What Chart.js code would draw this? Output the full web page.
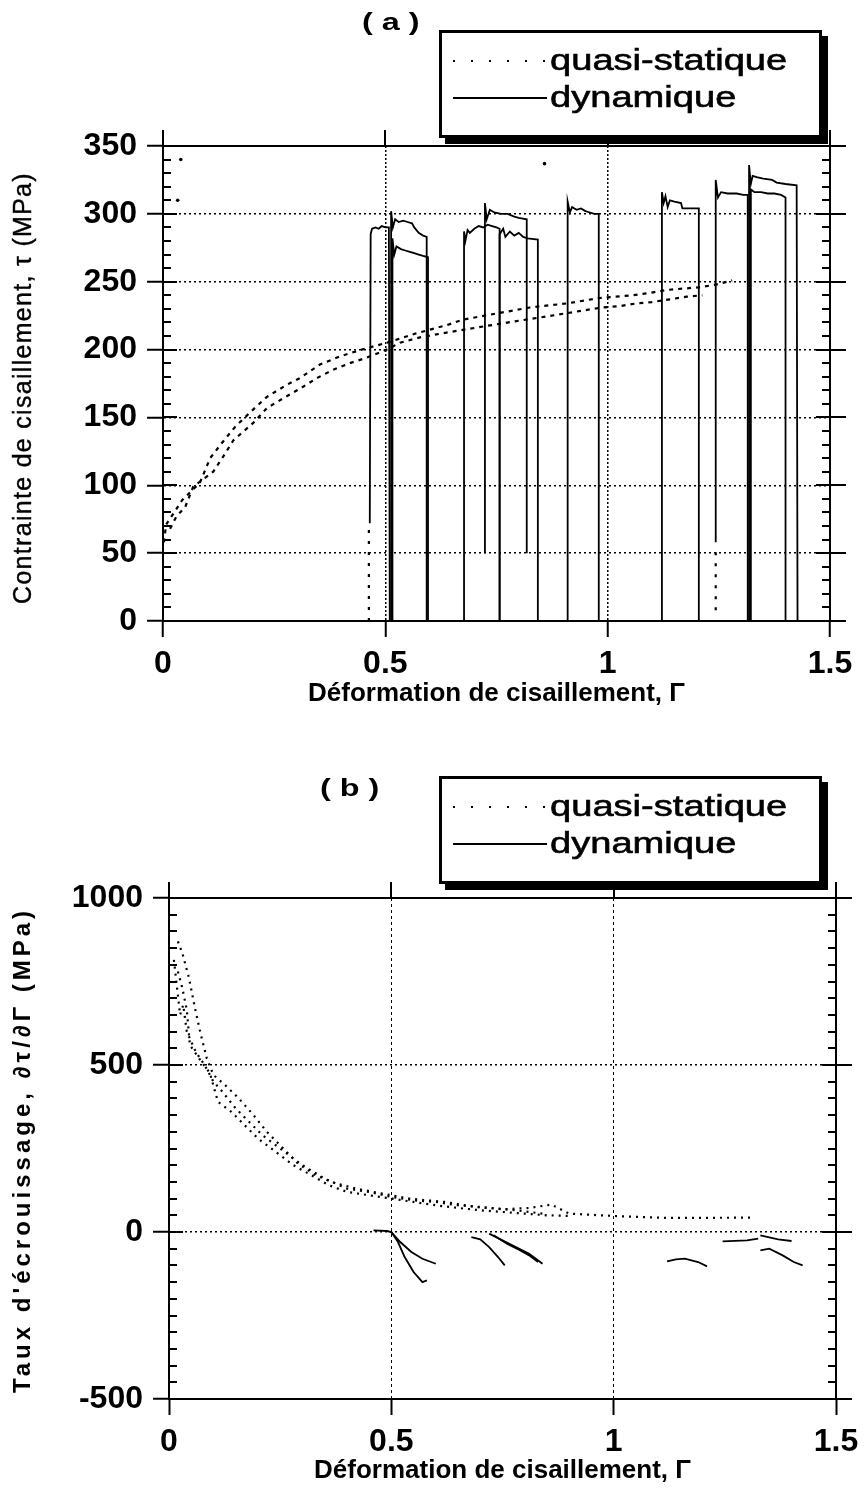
<!DOCTYPE html>
<html lang="fr">
<head>
<meta charset="utf-8">
<title>Contrainte et taux d'écrouissage</title>
<script src="https://cdn.jsdelivr.net/npm/chart.js@4.4.1/dist/chart.umd.min.js"></script>
<style>
  html, body { margin: 0; padding: 0; background: #fff; }
  #page { position: relative; width: 868px; height: 1495px; overflow: hidden; }
  canvas { position: absolute; left: 0; }
  #chart-a { top: 0; }
  #chart-b { top: 730px; }
  .panel { position: absolute; font: bold 24px "Liberation Sans", Arial, sans-serif; transform: scaleX(1.35); transform-origin: left center; white-space: pre; }
  .legend { position: absolute; left: 439px; width: 377px; height: 102px; border: 3px solid #000; box-shadow: 6px 6px 0 #000; background: #fff; }
  .legend .row { position: absolute; left: 0; width: 100%; height: 36px; }
  .legend .sample { position: absolute; left: 11px; top: 17px; width: 94px; height: 2px; }
  .legend .dots { background: repeating-linear-gradient(to right, #000 0 2px, transparent 2px 18px); }
  .legend .solid { background: #000; }
  .legend .lbl { position: absolute; left: 108px; top: 0; line-height: 36px; font: 30px "Liberation Sans", Arial, sans-serif; -webkit-text-stroke: 0.6px #000; transform: scaleX(1.27); transform-origin: left center; white-space: nowrap; }
  .ytitle { position: absolute; white-space: nowrap; transform: translate(-50%, -50%) rotate(-90deg); font-family: "Liberation Sans", Arial, sans-serif; }
</style>
</head>
<body>
<div id="page">
  <canvas id="chart-a" width="868" height="728"></canvas>
  <canvas id="chart-b" width="868" height="765"></canvas>

  <div class="panel" style="left:362px; top:8px;">( a )</div>
  <div class="legend" style="top:30px;">
    <div class="row" style="top:10px;"><span class="sample dots"></span><span class="lbl">quasi-statique</span></div>
    <div class="row" style="top:47px;"><span class="sample solid"></span><span class="lbl">dynamique</span></div>
  </div>
  <div class="ytitle" style="left:22px; top:388px; font-size:25px; letter-spacing:1.3px; -webkit-text-stroke:0.4px #000;">Contrainte de cisaillement, τ (MPa)</div>

  <div class="panel" style="left:320px; top:774px;">( b )</div>
  <div class="legend" style="top:776px;">
    <div class="row" style="top:10px;"><span class="sample dots"></span><span class="lbl">quasi-statique</span></div>
    <div class="row" style="top:47px;"><span class="sample solid"></span><span class="lbl">dynamique</span></div>
  </div>
  <div class="ytitle" style="left:22px; top:1150px; font-size:24px; font-weight:bold; letter-spacing:4px;">Taux d'écrouissage, ∂τ/∂Γ (MPa)</div>
</div>

<script>
// shared axes
const strainTicks = [0, 0.5, 1, 1.5];
const stressTicks = [0, 50, 100, 150, 200, 250, 300, 350];
const rateTicks = [-500, 0, 500, 1000];
const stressMinorStep = 10;
const rateMinorStep = 50;

// (a) quasi-static tests [Γ, τ MPa]
const quasiA1 = [[0.002,58],[0.007,71],[0.043,89],[0.083,102],[0.106,120],[0.132,131],[0.162,143],[0.2,155],[0.233,165],[0.278,174],[0.308,179],[0.353,189],[0.398,195],[0.447,200],[0.503,205],[0.57,212],[0.638,218],[0.674,222],[0.757,227],[0.825,231],[0.908,234],[0.982,238],[1.056,240],[1.099,242],[1.135,244],[1.173,245],[1.21,246],[1.245,248],[1.28,251]];
const quasiA2 = [[0.016,68],[0.03,77],[0.05,84],[0.068,99],[0.113,110],[0.135,121],[0.158,133],[0.203,146],[0.234,157],[0.27,164],[0.312,172],[0.346,179],[0.382,185],[0.42,190],[0.458,194],[0.503,200],[0.533,205],[0.578,209],[0.629,212],[0.683,215],[0.72,217],[0.795,221],[0.874,225],[0.949,229],[0.987,231],[1.027,232],[1.065,234],[1.099,235],[1.14,237],[1.178,239],[1.213,240]];
const quasiA3 = [[0.463,0],[0.463,72]];
const quasiA4 = [[1.243,8],[1.243,55]];
const strayDotsA = [[0.04,340],[0.033,310],[0.858,337]];

// (a) dynamic tests
const dynA1 = [[0.465,72],[0.467,285],[0.47,289],[0.478,290],[0.485,289],[0.492,291],[0.5,290],[0.508,290],[0.51,0]];
const dynA2 = [[0.513,0],[0.513,302],[0.517,290],[0.522,296],[0.53,294],[0.54,295],[0.55,294],[0.56,293],[0.565,290],[0.575,286],[0.585,284],[0.593,283],[0.593,0]];
const dynA3 = [[0.516,0],[0.516,282],[0.52,270],[0.525,276],[0.535,274],[0.545,273],[0.555,272],[0.565,271],[0.575,270],[0.585,269],[0.596,268],[0.596,0]];
const dynA4 = [[0.677,0],[0.677,287],[0.68,280],[0.685,288],[0.69,286],[0.7,289],[0.71,291],[0.72,290],[0.73,292],[0.74,291],[0.75,290],[0.757,289],[0.757,0]];
const dynA5 = [[0.724,50],[0.724,308],[0.728,296],[0.735,303],[0.745,301],[0.76,300],[0.775,300],[0.79,298],[0.8,297],[0.818,296],[0.818,50]];
const dynA6 = [[0.757,0],[0.757,285],[0.765,289],[0.77,283],[0.78,287],[0.79,284],[0.8,286],[0.81,283],[0.82,282],[0.843,281],[0.843,0]];
const dynA7 = [[0.91,0],[0.91,309],[0.915,301],[0.92,305],[0.93,303],[0.94,304],[0.95,302],[0.96,301],[0.97,300],[0.98,300],[0.98,0]];
const dynA8 = [[1.122,0],[1.122,316],[1.126,308],[1.13,313],[1.135,305],[1.14,310],[1.15,309],[1.165,308],[1.168,304],[1.19,304],[1.205,304],[1.205,0]];
const dynA9 = [[1.243,58],[1.243,325],[1.248,312],[1.255,316],[1.27,315],[1.29,315],[1.305,314],[1.315,314],[1.315,0]];
const dynA10 = [[1.318,0],[1.318,336],[1.322,322],[1.326,328],[1.335,327],[1.35,326],[1.37,325],[1.38,323],[1.4,322],[1.425,321],[1.427,0]];
const dynA11 = [[1.322,0],[1.322,318],[1.33,316],[1.345,316],[1.36,315],[1.375,315],[1.39,314],[1.4,312],[1.4,0]];

// (b) quasi-static hardening rate [Γ, dτ/dΓ MPa]
const quasiB1 = [[0.02,870],[0.03,835],[0.045,760],[0.058,673],[0.07,600],[0.085,520],[0.1,470],[0.126,440],[0.157,400],[0.19,350],[0.22,300],[0.257,250],[0.29,205],[0.33,170],[0.37,148],[0.42,130],[0.48,115],[0.54,100],[0.62,90],[0.69,75],[0.75,68],[0.81,72],[0.86,82],[0.9,55],[1.0,48],[1.12,42],[1.31,43]];
const quasiB2 = [[0.02,780],[0.03,730],[0.04,665],[0.047,560],[0.07,515],[0.092,476],[0.11,390],[0.14,360],[0.17,320],[0.2,280],[0.24,240],[0.28,200],[0.32,170],[0.36,140],[0.4,120],[0.45,110],[0.5,100],[0.55,90],[0.6,80],[0.65,72],[0.7,65],[0.75,60],[0.8,55],[0.85,50],[0.9,48]];
const quasiB3 = [[0.011,815],[0.025,650],[0.032,680],[0.04,600],[0.06,540],[0.08,500],[0.1,450],[0.12,420],[0.15,370],[0.18,330],[0.21,290],[0.25,250],[0.3,200],[0.35,160],[0.4,130],[0.45,120],[0.5,105],[0.55,95],[0.6,90],[0.65,80],[0.7,75],[0.78,65],[0.84,55]];

// (b) dynamic hardening rate
const dynB1 = [[0.46,5],[0.49,3],[0.5,0],[0.52,-30],[0.545,-60],[0.57,-80],[0.6,-95]];
const dynB2 = [[0.5,0],[0.515,-30],[0.53,-75],[0.55,-120],[0.57,-150],[0.58,-145]];
const dynB3 = [[0.68,-15],[0.7,-22],[0.72,-45],[0.74,-75],[0.755,-100]];
const dynB4 = [[0.72,-5],[0.75,-25],[0.78,-45],[0.81,-65],[0.84,-95]];
const dynB5 = [[0.73,-10],[0.76,-35],[0.79,-55],[0.81,-70],[0.83,-90]];
const dynB6 = [[1.12,-88],[1.14,-82],[1.16,-80],[1.19,-90],[1.21,-103]];
const dynB7 = [[1.245,-28],[1.3,-25],[1.325,-20]];
const dynB8 = [[1.33,-10],[1.37,-22],[1.4,-27]];
const dynB9 = [[1.33,-55],[1.35,-50],[1.38,-70],[1.405,-90],[1.425,-100]];

const tickFont = { family: "'Liberation Sans', Arial, sans-serif", size: 32, weight: "bold" };
const xTitleFont = { family: "'Liberation Sans', Arial, sans-serif", size: 26, weight: "bold" };

const pts = (arr) => arr.map(([x, y]) => ({ x, y }));

function quasiSet(arr, dash) {
  return { data: pts(arr), borderColor: "#000", borderWidth: 2.2, borderDash: dash, pointRadius: 0, fill: false, tension: 0 };
}
function dynSet(arr) {
  return { data: pts(arr), borderColor: "#000", borderWidth: 1.8, pointRadius: 0, fill: false, tension: 0 };
}

// minor ticks + inner major ticks on left and right frame
const frameTicks = {
  id: "frameTicks",
  afterDraw(chart, args, opts) {
    const { ctx, chartArea: a } = chart;
    const y = chart.scales.y;
    const n = Math.round((y.max - y.min) / opts.minorStep);
    ctx.save();
    ctx.strokeStyle = "#000";
    ctx.lineWidth = 2;
    ctx.beginPath();
    for (let i = 0; i <= n; i++) {
      const v = y.min + i * opts.minorStep;
      const py = Math.round(y.getPixelForValue(v));
      const len = opts.majors.includes(v) ? 14 : 8;
      ctx.moveTo(a.left, py);
      ctx.lineTo(a.left + len, py);
      ctx.moveTo(a.right - len, py);
      ctx.lineTo(a.right, py);
    }
    ctx.stroke();
    ctx.restore();
  }
};

function makeScales(o) {
  const tickGrid = { color: "#000", tickLength: 16, tickWidth: 2, tickColor: "#000", tickBorderDash: [] };
  return {
    x: {
      type: "linear", position: "bottom", min: 0, max: 1.5,
      afterBuildTicks: (s) => { s.ticks = strainTicks.map((v) => ({ value: v })); },
      ticks: { font: tickFont, color: "#000", padding: 8, maxRotation: 0, autoSkip: false, callback: (v) => String(v) },
      grid: Object.assign({}, tickGrid, { lineWidth: o.vGridWidth }),
      border: { display: true, color: "#000", width: 2, dash: o.vDash },
      title: { display: true, text: "Déformation de cisaillement, Γ", font: xTitleFont, color: "#000", padding: { top: 0, bottom: o.titlePad } },
      afterFit: (s) => { s.height = o.bottomH; }
    },
    xTop: {
      type: "linear", position: "top", min: 0, max: 1.5,
      afterBuildTicks: (s) => { s.ticks = strainTicks.map((v) => ({ value: v })); },
      ticks: { display: false },
      grid: Object.assign({}, tickGrid, { drawOnChartArea: false, lineWidth: 2 }),
      border: { display: true, color: "#000", width: 2 },
      afterFit: (s) => { s.height = o.topH; }
    },
    y: {
      type: "linear", position: "left", min: o.yTicks[0], max: o.yTicks[o.yTicks.length - 1],
      afterBuildTicks: (s) => { s.ticks = o.yTicks.map((v) => ({ value: v })); },
      ticks: { font: tickFont, color: "#000", padding: 10, callback: (v) => String(v) },
      grid: Object.assign({}, tickGrid, { lineWidth: 1.5 }),
      border: { display: true, color: "#000", width: 2, dash: [2, 3] },
      afterFit: (s) => { s.width = o.leftW; }
    },
    yRight: {
      type: "linear", position: "right", min: o.yTicks[0], max: o.yTicks[o.yTicks.length - 1],
      afterBuildTicks: (s) => { s.ticks = o.yTicks.map((v) => ({ value: v })); },
      ticks: { display: false },
      grid: Object.assign({}, tickGrid, { drawOnChartArea: false, lineWidth: 2 }),
      border: { display: true, color: "#000", width: 2 },
      afterFit: (s) => { s.width = o.rightW; }
    }
  };
}

const baseOptions = {
  responsive: false,
  animation: false,
  events: [],
  layout: { padding: 0 },
  plugins: { legend: { display: false }, tooltip: { enabled: false } }
};

// (a) contrainte de cisaillement
new Chart(document.getElementById("chart-a"), {
  type: "line",
  data: {
    datasets: [
      quasiSet(quasiA1, [4, 5]),
      quasiSet(quasiA2, [4, 5]),
      quasiSet(quasiA3, [3, 8]),
      quasiSet(quasiA4, [3, 8]),
      { data: pts(strayDotsA), showLine: false, pointRadius: 1.8, pointBackgroundColor: "#000", pointBorderWidth: 0 },
      dynSet(dynA1), dynSet(dynA2), dynSet(dynA3), dynSet(dynA4), dynSet(dynA5), dynSet(dynA6),
      dynSet(dynA7), dynSet(dynA8), dynSet(dynA9), dynSet(dynA10), dynSet(dynA11)
    ]
  },
  options: Object.assign({}, baseOptions, {
    scales: makeScales({ yTicks: stressTicks, leftW: 163, rightW: 38, topH: 146, bottomH: 107, titlePad: 19, vDash: [2, 2], vGridWidth: 1.5 }),
    plugins: Object.assign({}, baseOptions.plugins, { frameTicks: { minorStep: stressMinorStep, majors: stressTicks } })
  }),
  plugins: [frameTicks]
});

// (b) taux d'écrouissage
new Chart(document.getElementById("chart-b"), {
  type: "line",
  data: {
    datasets: [
      quasiSet(quasiB1, [2, 5]),
      quasiSet(quasiB2, [2, 5]),
      quasiSet(quasiB3, [2, 5]),
      dynSet(dynB1), dynSet(dynB2), dynSet(dynB3), dynSet(dynB4), dynSet(dynB5),
      dynSet(dynB6), dynSet(dynB7), dynSet(dynB8), dynSet(dynB9)
    ]
  },
  options: Object.assign({}, baseOptions, {
    scales: makeScales({ yTicks: rateTicks, leftW: 169, rightW: 32, topH: 168, bottomH: 96, titlePad: 9, vDash: [3, 3], vGridWidth: 1 }),
    plugins: Object.assign({}, baseOptions.plugins, { frameTicks: { minorStep: rateMinorStep, majors: rateTicks } })
  }),
  plugins: [frameTicks]
});
</script>
</body>
</html>
